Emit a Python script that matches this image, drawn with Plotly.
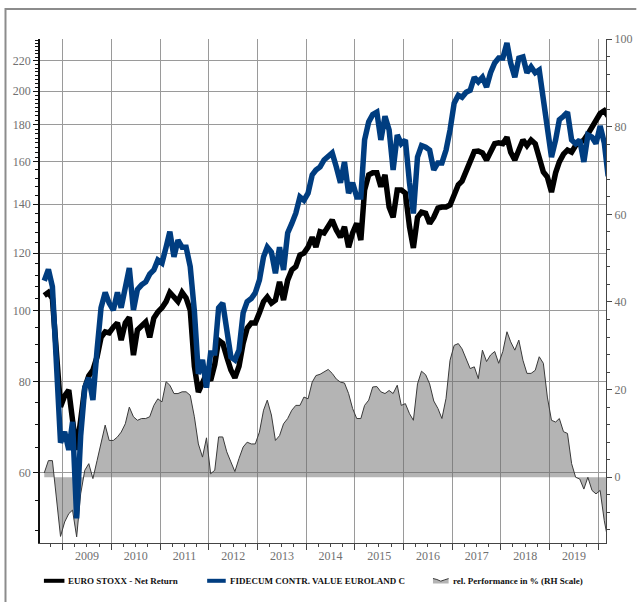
import numpy as np
import pandas as pd
import plotly.graph_objects as go

# ---------------- data (monthly, mid-month) ----------------
dates = pd.date_range("2008-07-15", periods=140, freq="MS") + pd.Timedelta(days=14)

euro_stoxx = [
    105, 106, 104, 89, 73.9, 76.5, 77.9, 70.9, 64.5, 70.9, 78.5, 81.5, 83, 86.5, 92, 93.6, 93.3, 95,
    96.3, 91.2, 96.3, 98, 87, 94.2, 95.6, 96.6, 92, 97.8, 99.7, 101,
    103, 106, 104.5, 103, 106, 104.2, 100.3, 84, 77.4, 79.4, 82, 80.3,
    84.5, 91.2, 90.3, 86.5, 83, 81, 84, 90.3, 94.7, 96.3, 96.3, 99.4,
    103, 104.5, 102.5, 103.5, 109.6, 103.5, 110.2, 113.8, 115, 119.3, 120, 122.3,
    126.2, 122.3, 128.4, 127.9, 131, 133.2, 129.1, 126.2, 130.4, 122.3, 127.9, 131.8,
    125.1, 146.5, 153.6, 154.6, 154.6, 148, 153.6, 138.8, 134.4, 146.5, 146.5, 145,
    130.4, 122, 134.4, 136.6, 136.1, 131.8, 134.4, 138.3, 138.8, 138.8, 139.7, 145,
    148.9, 150.6, 156, 160, 165.3, 165.6, 164.6, 161, 164.6, 169.5, 170, 169.5,
    173, 165, 161, 166.1, 171.5, 168.5, 171.5, 169.5, 162.5, 155, 152.6, 145.5,
    154.6, 160, 164, 166.1, 165, 168.5, 170, 171.5, 174.7, 178.3, 182.3, 186.4,
    188, 184.8,
]

fidecum = [
    110, 114, 108, 86.5, 66, 68.3, 64.5, 70.5, 52, 67.4, 78.5, 81, 75.5, 88.4, 101, 106, 102.5, 100.3,
    106, 101, 109, 114.5, 100.3, 107, 108.6, 109.6, 112.3, 113.8, 117.4, 116.3,
    122.3, 128.4, 118.6, 125, 122.3, 122.3, 115, 100, 82, 85.7, 78.5, 87.6,
    87.6, 101, 102.5, 93.3, 86.5, 85.7, 88.4, 99.4, 103, 104, 105.9, 110.2,
    118.6, 122.3, 120.4, 112.6, 122.3, 113.8, 127.9, 131.8, 136.1, 143.3, 141.8, 145,
    153.6, 156, 157.5, 161, 162.5, 164.6, 157.5, 149.8, 160, 145, 149.8, 143.3,
    143.3, 171.5, 181.6, 185.8, 187.2, 171.5, 184.8, 177, 156, 174.2, 169.5, 171.5,
    149.8, 136, 162.5, 168.5, 167.6, 166.1, 156, 159.5, 159.5, 166.1, 177, 192.6,
    197.5, 196.2, 199.4, 200.6, 209, 206, 209, 202.6, 212, 218.6, 222, 222,
    232.9, 218.6, 209, 222, 222.8, 212, 216, 212, 213.8, 196.2, 177, 162.5,
    171.5, 182.8, 184.8, 187.2, 171.5, 169.5, 171.5, 160, 174.2, 173, 169.5, 179.2,
    170, 153,
]

rel_perf = [
    1, 3.8, 3.8, -4.5, -13.5, -10.2, -8.3, -7.5, -13.6, -3.8, 1.6, 3.1, -0.3, 3.8, 7.6, 11.9, 8.4, 8.4,
    9.2, 10.3, 12.2, 16, 13.8, 13, 13.4, 13.4, 13.8, 16.4, 17.9, 17.2,
    21.8, 21, 19.1, 19.1, 19.5, 19.5, 18.7, 13.8, 7.6, 4.6, 9, 0.8,
    1.6, 9.2, 9.2, 5.8, 3.5, 1.3, 4.3, 6.9, 8, 7.6, 7.6, 10.3,
    15.3, 17.6, 14.2, 8.4, 9.5, 12.2, 13.4, 15.3, 16.4, 16.4, 18.3, 17.9,
    21.7, 23.2, 23.5, 24, 24.6, 23.7, 22.4, 21.7, 21.5, 19.1, 15.7, 13.4,
    13.4, 16.4, 17.6, 20.6, 20.7, 19.5, 19.1, 19.8, 19.1, 21, 16.4, 16.8,
    14.5, 13, 21.3, 24.2, 23.4, 21.3, 17.4, 15.7, 13.4, 18, 26.7, 30.1,
    30.5, 29.3, 27.1, 24.8, 25.2, 22.5, 29, 26.4, 27.9, 28.7, 26, 28.7,
    33.2, 30.9, 29, 31.3, 26.7, 23.7, 23.7, 24.4, 27.5, 26, 18.3, 13,
    12.6, 13.4, 10.4, 10, 3.1, 0, -0.4, -2.7, 0, -3, -3.8, -3,
    -9.9, -14.5,
]

left_ticks = [60, 80, 100, 120, 140, 160, 180, 200, 220]
right_ticks = [0, 20, 40, 60, 80, 100]

names = ["EURO STOXX - Net Return", "FIDECUM CONTR. VALUE EUROLAND C",
         "rel. Performance in % (RH Scale)"]

# ---------------- style ----------------
W, H = 644, 602
ML, MR, MT, MB = 40, 25, 39, 59
PW, PH = W - ML - MR, H - MT - MB
BLUE = "#003d80"
GRID = "#9a9a9a"
TICKFONT = dict(family="Liberation Serif", size=12, color="#707070")


def px(xp):
    return (xp - ML) / PW


def py(yp):
    return (H - MB - yp) / PH


minor_left = list(np.arange(50, 60, 5)) + list(np.arange(60, 100, 5)) + \
    list(np.arange(100, 160, 4)) + list(np.arange(160, 236, 2.5))

fig = go.Figure()

fig.add_trace(go.Scatter(
    x=dates, y=rel_perf, name=names[2], yaxis="y", mode="lines",
    line=dict(color="#3a3a3a", width=1), fill="tozeroy",
    fillcolor="rgba(105,105,105,0.5)", showlegend=False))

fig.add_trace(go.Scatter(
    x=dates, y=euro_stoxx, name=names[0], yaxis="y2", mode="lines",
    line=dict(color="#000000", width=5.5), showlegend=False))

fig.add_trace(go.Scatter(
    x=dates, y=fidecum, name=names[1], yaxis="y2", mode="lines",
    line=dict(color=BLUE, width=5.5), showlegend=False))

fig.update_layout(
    width=W, height=H, autosize=False,
    margin=dict(l=ML, r=MR, t=MT, b=MB),
    paper_bgcolor="white", plot_bgcolor="white",
    xaxis=dict(
        type="date", range=["2008-07-14", "2020-02-28"],
        dtick="M12", tick0="2009-01-01", ticklabelmode="period", tickformat="%Y",
        ticks="outside", ticklen=6, tickcolor="#444", tickwidth=1,
        ticklabelstandoff=-4,
        showline=True, linecolor="#444", linewidth=1,
        showgrid=True, gridcolor=GRID, gridwidth=1,
        tickfont=TICKFONT,
        minor=dict(dtick="M3", ticks="outside", ticklen=3, tickcolor="#444", showgrid=False),
    ),
    yaxis=dict(
        side="right", range=[-15, 100], tickvals=right_ticks,
        ticktext=[str(v) for v in right_ticks],
        ticks="outside", ticklen=5, tickcolor="#444",
        showline=True, linecolor="#444", linewidth=1,
        showgrid=False, zeroline=False, tickfont=TICKFONT,
        minor=dict(dtick=4, tick0=0, ticks="outside", ticklen=3, tickcolor="#444", showgrid=False),
    ),
    yaxis2=dict(
        type="log", overlaying="y", side="left",
        range=[np.log10(48.1), np.log10(235.8)],
        tickvals=left_ticks, ticktext=[str(v) for v in left_ticks],
        ticks="outside", ticklen=5, tickcolor="#111",
        showline=True, linecolor="#111", linewidth=1.5,
        showgrid=True, gridcolor=GRID, gridwidth=1, zeroline=False,
        tickfont=TICKFONT,
        minor=dict(tickvals=minor_left, ticks="outside", ticklen=3, tickcolor="#111", showgrid=False),
    ),
    showlegend=False,
)

shapes = []
# outer frame (top and left edges)
shapes.append(dict(type="line", xref="paper", yref="paper", x0=px(4.7), x1=px(650),
                   y0=py(9), y1=py(9), line=dict(color="#8c8c8c", width=2)))
shapes.append(dict(type="line", xref="paper", yref="paper", x0=px(4.7), x1=px(4.7),
                   y0=py(8), y1=py(610), line=dict(color="#8c8c8c", width=2)))

# custom legend
LY = 580.8
shapes.append(dict(type="line", xref="paper", yref="paper", x0=px(44), x1=px(65),
                   y0=py(LY), y1=py(LY), line=dict(color="#000000", width=4)))
shapes.append(dict(type="line", xref="paper", yref="paper", x0=px(211), x1=px(230),
                   y0=py(LY), y1=py(LY), line=dict(color=BLUE, width=4)))
glyph = [(442, 583.5), (442, 578.5), (446, 579.5), (450, 581.2), (454, 579.8), (458, 578.6), (458, 583.5)]
path = "M " + " L ".join(f"{px(a):.5f},{py(b):.5f}" for a, b in glyph) + " Z"
shapes.append(dict(type="path", xref="paper", yref="paper", path=path,
                   fillcolor="rgba(105,105,105,0.5)", line=dict(width=0)))
top = glyph[1:-1]
path2 = "M " + " L ".join(f"{px(a):.5f},{py(b):.5f}" for a, b in top)
shapes.append(dict(type="path", xref="paper", yref="paper", path=path2,
                   line=dict(color="#3a3a3a", width=1)))
fig.update_layout(shapes=shapes)

leg_font = dict(family="Liberation Serif", size=9, color="#111111")
for xpos, txt in [(67, names[0]), (232, names[1]), (460, names[2])]:
    fig.add_annotation(x=px(xpos), y=py(LY), xref="paper", yref="paper",
                       text=f"<b>{txt}</b>", showarrow=False,
                       xanchor="left", yanchor="middle", font=leg_font)

fig.write_html("out.html")
